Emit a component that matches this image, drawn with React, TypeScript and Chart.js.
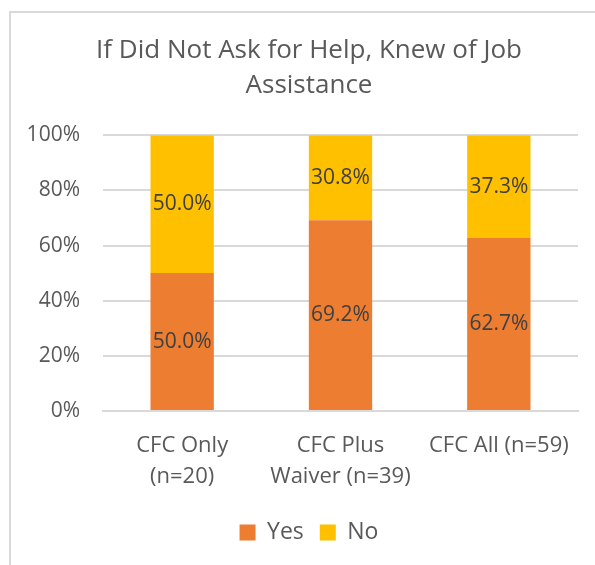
import React, { useEffect, useRef } from "react";
import { Chart, registerables } from "chart.js";

Chart.register(...registerables);

const titleLines = ["If Did Not Ask for Help, Knew of Job", "Assistance"];
const categories: string[][] = [
  ["CFC Only", "(n=20)"],
  ["CFC Plus", "Waiver (n=39)"],
  ["CFC All (n=59)"],
];
const yesValues = [50.0, 69.2, 62.7];
const noValues = [50.0, 30.8, 37.3];
const seriesNames = ["Yes", "No"];
const seriesColors = ["#ED7D31", "#FFC000"];
const yTicks = [0, 20, 40, 60, 80, 100];

const FONT = "'Open Sans', 'DejaVu Sans', sans-serif";

const dataLabelPlugin = {
  id: "dataLabels",
  afterDatasetsDraw(chart: any) {
    const ctx = chart.ctx;
    ctx.save();
    ctx.font = `21px ${FONT}`;
    ctx.fillStyle = "#404040";
    ctx.textAlign = "center";
    ctx.textBaseline = "middle";
    chart.data.datasets.forEach((ds: any, di: number) => {
      const meta = chart.getDatasetMeta(di);
      meta.data.forEach((bar: any, i: number) => {
        const v = ds.data[i];
        const y = (bar.y + bar.base) / 2;
        ctx.fillText(v.toFixed(1) + "%", bar.x, y);
      });
    });
    ctx.restore();
  },
};

export default function App() {
  const ref = useRef<HTMLCanvasElement | null>(null);
  useEffect(() => {
    if (!ref.current) return;
    const chart = new Chart(ref.current, {
      type: "bar",
      data: {
        labels: categories,
        datasets: [
          { label: seriesNames[0], data: yesValues, backgroundColor: seriesColors[0], categoryPercentage: 1, barPercentage: 0.4 },
          { label: seriesNames[1], data: noValues, backgroundColor: seriesColors[1], categoryPercentage: 1, barPercentage: 0.4 },
        ],
      },
      options: {
        responsive: false,
        animation: false,
        layout: { padding: { left: 0, right: 0, top: 0, bottom: 15 } },
        scales: {
          x: {
            stacked: true,
            grid: { display: false, drawTicks: false },
            border: { display: true, color: "#d9d9d9", width: 2 },
            ticks: {
              color: "#595959",
              font: { family: FONT, size: 22, lineHeight: 1.41 },
              padding: 19,
              maxRotation: 0,
              autoSkip: false,
            },
            afterFit: (s: any) => { s.height = 94; },
          },
          y: {
            stacked: true,
            min: 0,
            max: 100,
            afterBuildTicks: (s: any) => { s.ticks = yTicks.map((v) => ({ value: v })); },
            grid: { color: "#d9d9d9", lineWidth: 2, drawTicks: false },
            border: { display: false },
            ticks: {
              color: "#595959",
              font: { family: FONT, size: 21 },
              padding: 23,
              callback: (v: any) => v + "%",
            },
            afterFit: (s: any) => { s.width = 92; },
          },
          yRight: {
            position: "right",
            display: true,
            grid: { display: false, drawTicks: false },
            border: { display: false },
            ticks: { display: false },
            afterFit: (s: any) => { s.width = 29; },
          },
        },
        plugins: {
          title: {
            display: true,
            text: titleLines,
            color: "#595959",
            font: { family: FONT, size: 26, weight: "normal", lineHeight: 1.35 },
            padding: { top: 20, bottom: 32 },
          },
          legend: {
            position: "bottom",
            labels: {
              color: "#595959",
              font: { family: FONT, size: 23 },
              boxWidth: 16,
              boxHeight: 16,
              padding: 16,
            },
          },
          tooltip: { enabled: false },
        },
      },
      plugins: [dataLabelPlugin],
    });
    return () => chart.destroy();
  }, []);

  return (
    <div style={{ position: "absolute", left: 0, top: 0, width: 595, height: 565, overflow: "hidden", background: "#fff" }}>
      <div
        style={{
          position: "absolute",
          left: 9,
          top: 11,
          width: 600,
          height: 560,
          border: "2px solid #d9d9d9",
          boxSizing: "border-box",
          background: "#fff",
        }}
      >
        <canvas ref={ref} width={596} height={556} style={{ display: "block" }} />
      </div>
    </div>
  );
}
